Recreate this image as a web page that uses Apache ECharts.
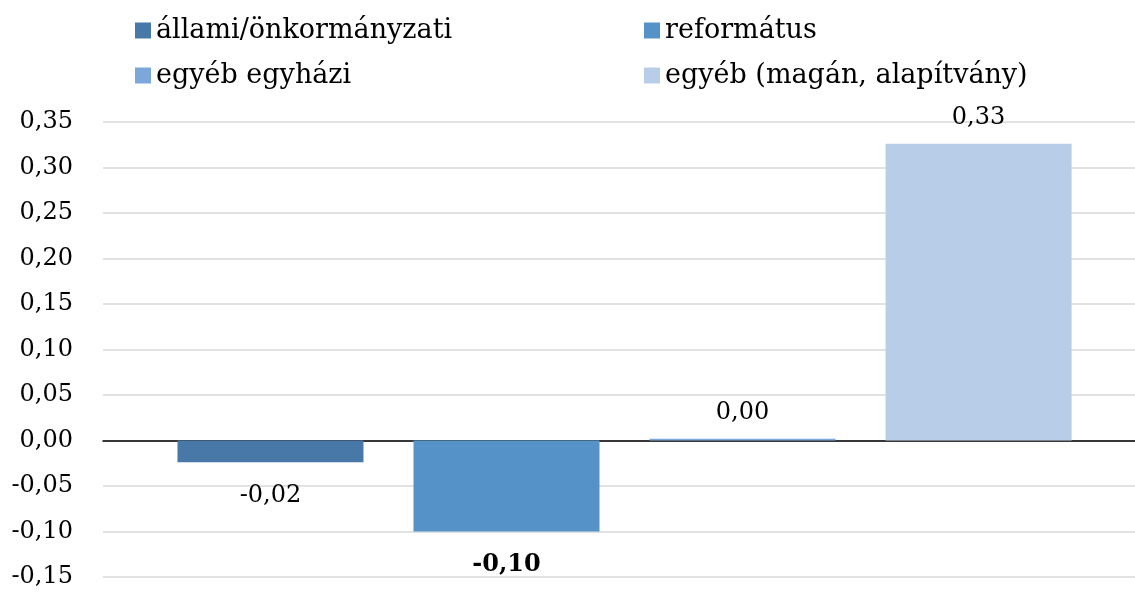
<!DOCTYPE html>
<html><head><meta charset="utf-8">
<script src="https://cdn.jsdelivr.net/npm/echarts@6/dist/echarts.min.js"></script>
<style>html,body{margin:0;padding:0;background:#fff}#c{width:1135px;height:592px}</style>
</head><body><div id="c"></div>
<script>
const categories = [''];
const seriesNames = ['állami/önkormányzati', 'református', 'egyéb egyházi', 'egyéb (magán, alapítvány)'];
const seriesValues = [-0.024, -0.100, 0.002, 0.326];
const boldLabel = [false, true, false, false];
const colors = ['#4878a8', '#5592c8', '#7ba7da', '#b8cde8'];
const yTicks = { min: -0.15, max: 0.35, interval: 0.05 };

const FONT = 'DejaVu Serif';
const fmt = v => v.toFixed(2).replace('.', ',');

const legendPos = [
  { left: 135, top: 17 }, { left: 644, top: 17 },
  { left: 135, top: 62 }, { left: 644, top: 62 }
];

const realSeries = seriesNames.map((n, i) => ({
  name: n, type: 'bar', barWidth: 186, barGap: '26.9%',
  data: [seriesValues[i]],
  label: {
    show: true,
    position: seriesValues[i] < 0 ? 'bottom' : 'top',
    distance: seriesValues[i] < 0 ? 21 : 14,
    fontFamily: FONT, fontSize: 24, color: '#000',
    fontWeight: boldLabel[i] ? 'bold' : 'normal',
    formatter: p => fmt(p.value)
  }
}));
// empty spacer column (no data) so the bar group sits slightly right of centre, as in the original
const spacer = { name: '_spacer', type: 'bar', barWidth: 8.7, barGap: '26.9%', data: [null], silent: true, itemStyle: { color: 'rgba(0,0,0,0)' } };

const chart = echarts.init(document.getElementById('c'), null, { renderer: 'canvas' });
chart.setOption({
  animation: false,
  color: colors,
  legend: seriesNames.map((n, i) => ({
    data: [n], left: legendPos[i].left, top: legendPos[i].top,
    icon: 'rect', itemWidth: 16, itemHeight: 16, padding: 0,
    textStyle: { fontFamily: FONT, fontSize: 27, color: '#000' },
    selectedMode: false
  })),
  grid: { left: 103, right: 0, top: 122, bottom: 15, containLabel: false },
  xAxis: {
    type: 'category', data: categories,
    axisLine: { onZero: true, lineStyle: { color: '#000', width: 1.5 } },
    axisTick: { show: false }, axisLabel: { show: false }
  },
  yAxis: {
    type: 'value', min: yTicks.min, max: yTicks.max, interval: yTicks.interval,
    axisLine: { show: false }, axisTick: { show: false },
    axisLabel: { fontFamily: FONT, fontSize: 24, color: '#000', margin: 30, formatter: v => fmt(v) },
    splitLine: { lineStyle: { color: '#d9d9d9', width: 1.5 } }
  },
  series: [spacer].concat(realSeries)
});
</script></body></html>
